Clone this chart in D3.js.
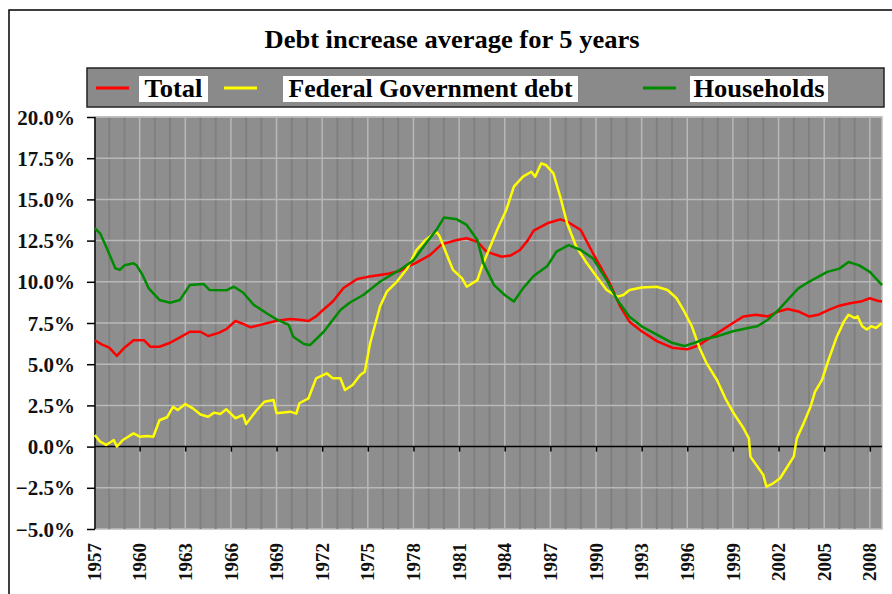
<!DOCTYPE html>
<html><head><meta charset="utf-8">
<script src="https://cdn.jsdelivr.net/npm/d3@7"></script>
<style>body{margin:0;background:#fff}svg{display:block}text{font-family:"Liberation Serif","Times New Roman",serif}</style>
</head><body>
<svg id="chart" width="892" height="594"></svg>
<script>
const titleText = "Debt increase average for 5 years";
const seriesNames = ["Total", "Federal Government debt", "Households"];
const yTicks = [-5, -2.5, 0, 2.5, 5, 7.5, 10, 12.5, 15, 17.5, 20];
const xTickYears = [1957,1960,1963,1966,1969,1972,1975,1978,1981,1984,1987,1990,1993,1996,1999,2002,2005,2008];

const totalPoints = [[1957.05,6.45],[1957.5,6.2],[1958.0,6.0],[1958.5,5.5],[1959.0,6.0],[1959.6,6.45],[1960.3,6.45],[1960.7,6.06],[1961.3,6.06],[1962.0,6.3],[1962.65,6.63],[1963.3,6.97],[1964.0,6.97],[1964.5,6.71],[1965.2,6.9],[1965.7,7.13],[1966.3,7.62],[1966.8,7.45],[1967.3,7.24],[1968.0,7.4],[1969.0,7.64],[1969.9,7.74],[1970.5,7.7],[1971.1,7.62],[1971.6,7.9],[1972.05,8.29],[1972.7,8.8],[1973.4,9.62],[1974.3,10.17],[1975.0,10.3],[1975.8,10.41],[1976.4,10.5],[1977.1,10.65],[1977.6,10.9],[1978.2,11.16],[1979.1,11.63],[1979.85,12.27],[1980.85,12.54],[1981.5,12.64],[1982.2,12.43],[1982.8,11.83],[1983.8,11.52],[1984.4,11.6],[1985.0,11.93],[1985.5,12.5],[1985.9,13.1],[1986.8,13.55],[1987.65,13.79],[1988.1,13.65],[1989.0,13.14],[1989.8,11.73],[1990.3,10.9],[1990.9,9.91],[1991.6,8.49],[1992.2,7.58],[1993.0,7.0],[1994.0,6.4],[1995.0,6.0],[1996.0,5.9],[1996.6,6.1],[1997.0,6.3],[1998.0,6.9],[1999.0,7.5],[1999.7,7.9],[2000.5,8.0],[2001.3,7.9],[2002.0,8.2],[2002.6,8.35],[2003.3,8.2],[2004.0,7.9],[2004.6,8.0],[2005.3,8.3],[2006.0,8.55],[2006.7,8.7],[2007.4,8.8],[2008.0,9.0],[2008.5,8.85],[2008.8,8.8]];

const federalPoints = [[1957.05,0.7],[1957.4,0.3],[1957.8,0.1],[1958.3,0.4],[1958.5,0.0],[1958.9,0.4],[1959.6,0.8],[1960.0,0.6],[1960.5,0.64],[1960.9,0.6],[1961.3,1.6],[1961.8,1.78],[1962.2,2.42],[1962.5,2.22],[1963.0,2.58],[1963.5,2.32],[1964.0,1.95],[1964.5,1.81],[1964.9,2.06],[1965.3,1.98],[1965.7,2.26],[1966.3,1.72],[1966.8,1.92],[1967.0,1.37],[1967.7,2.22],[1968.2,2.72],[1968.8,2.83],[1969.0,2.02],[1969.9,2.12],[1970.3,2.0],[1970.5,2.63],[1971.1,2.93],[1971.6,4.14],[1972.3,4.45],[1972.7,4.14],[1973.2,4.14],[1973.5,3.43],[1974.0,3.74],[1974.5,4.34],[1974.8,4.54],[1975.15,6.27],[1975.8,8.5],[1976.25,9.4],[1976.9,10.0],[1977.6,10.82],[1978.2,11.93],[1978.8,12.54],[1979.5,13.04],[1979.7,12.8],[1980.2,11.63],[1980.6,10.72],[1981.2,10.21],[1981.5,9.7],[1982.2,10.1],[1982.5,10.92],[1982.95,11.93],[1983.5,13.14],[1984.1,14.36],[1984.6,15.77],[1985.2,16.38],[1985.75,16.68],[1986.0,16.38],[1986.4,17.19],[1986.7,17.09],[1987.2,16.58],[1987.65,15.16],[1988.1,13.55],[1988.7,12.13],[1989.4,11.12],[1990.05,10.31],[1990.7,9.5],[1991.4,9.1],[1991.8,9.2],[1992.2,9.5],[1993.0,9.65],[1994.0,9.7],[1994.7,9.5],[1995.3,9.0],[1995.8,8.2],[1996.3,7.3],[1996.8,6.0],[1997.3,5.0],[1997.95,4.04],[1998.5,2.93],[1999.05,2.02],[1999.7,1.11],[2000.05,0.5],[2000.15,-0.61],[2001.0,-1.72],[2001.2,-2.43],[2001.65,-2.23],[2002.1,-1.92],[2003.0,-0.61],[2003.2,0.5],[2003.65,1.41],[2004.1,2.42],[2004.4,3.33],[2004.85,4.04],[2005.3,5.3],[2005.8,6.6],[2006.3,7.6],[2006.6,8.0],[2007.0,7.8],[2007.2,7.9],[2007.5,7.3],[2007.8,7.1],[2008.1,7.3],[2008.4,7.2],[2008.8,7.5]];

const householdPoints = [[1957.05,13.25],[1957.4,12.94],[1957.8,12.13],[1958.4,10.82],[1958.7,10.72],[1959.0,11.0],[1959.6,11.12],[1959.8,11.0],[1960.2,10.4],[1960.6,9.6],[1961.3,8.9],[1962.0,8.73],[1962.65,8.9],[1963.3,9.8],[1964.2,9.87],[1964.6,9.5],[1965.7,9.48],[1966.2,9.7],[1966.8,9.35],[1967.5,8.6],[1968.35,8.09],[1969.0,7.72],[1969.8,7.38],[1970.1,6.67],[1970.8,6.22],[1971.2,6.16],[1972.1,6.97],[1973.2,8.29],[1973.8,8.73],[1974.7,9.2],[1975.8,10.0],[1976.5,10.4],[1977.1,10.72],[1978.0,11.3],[1978.9,12.43],[1979.5,13.14],[1980.0,13.9],[1980.85,13.79],[1981.5,13.45],[1982.2,12.54],[1982.6,11.12],[1983.3,9.8],[1984.0,9.2],[1984.6,8.8],[1985.2,9.6],[1985.9,10.35],[1986.8,10.96],[1987.4,11.83],[1988.2,12.23],[1989.0,11.93],[1989.8,11.42],[1990.7,10.1],[1991.4,8.9],[1992.2,7.88],[1993.0,7.3],[1994.0,6.8],[1995.0,6.3],[1995.8,6.1],[1996.5,6.3],[1997.0,6.5],[1998.0,6.7],[1999.0,7.0],[2000.0,7.2],[2000.6,7.3],[2001.3,7.7],[2002.0,8.3],[2002.6,8.9],[2003.3,9.6],[2004.0,10.0],[2004.6,10.3],[2005.2,10.6],[2006.0,10.8],[2006.6,11.2],[2007.3,11.0],[2008.0,10.6],[2008.5,10.1],[2008.8,9.8]];

const colors = ["#ff0000", "#ffff00", "#008a00"];

const svg = d3.select("#chart");
const L = 95, R = 882, T = 117, B = 529;
const x = d3.scaleLinear().domain([1957, 2008.8]).range([94, 882]);
const y = d3.scaleLinear().domain([-5, 20]).range([B, T]);
const serif = "Liberation Serif";

// outer frame
svg.append("rect").attr("x", 9).attr("y", 10).attr("width", 900).attr("height", 600)
  .attr("fill", "#fff").attr("stroke", "#000").attr("stroke-width", 1.5);

// title
svg.append("text").attr("x", 452).attr("y", 48).attr("text-anchor", "middle")
  .style("font-family", serif).attr("font-weight", "bold").attr("font-size", 25)
  .attr("textLength", 375).attr("lengthAdjust", "spacingAndGlyphs")
  .text(titleText);

// legend
svg.append("rect").attr("x", 87).attr("y", 68).attr("width", 797).attr("height", 39)
  .attr("fill", "#8a8a8a").attr("stroke", "#222").attr("stroke-width", 1.5);
const legendItems = [
  {line: [96, 129], box: [139, 208], len: 58},
  {line: [224, 257], box: [283, 578], len: 284},
  {line: [643, 676], box: [690, 828], len: 131}
];
legendItems.forEach((it, i) => {
  svg.append("line").attr("x1", it.line[0]).attr("x2", it.line[1]).attr("y1", 88).attr("y2", 88)
    .attr("stroke", colors[i]).attr("stroke-width", 3);
  svg.append("rect").attr("x", it.box[0]).attr("y", 76).attr("width", it.box[1] - it.box[0]).attr("height", 26)
    .attr("fill", "#fff");
  svg.append("text").attr("x", (it.box[0] + it.box[1]) / 2).attr("y", 97).attr("text-anchor", "middle")
    .style("font-family", serif).attr("font-weight", "bold").attr("font-size", 25).attr("fill", "#000")
    .attr("textLength", it.len).attr("lengthAdjust", "spacingAndGlyphs")
    .text(seriesNames[i]);
});

// plot background
svg.append("rect").attr("x", L).attr("y", T).attr("width", R - L).attr("height", B - T)
  .attr("fill", "#8e8e8e").attr("stroke", "#bdbdbd").attr("stroke-width", 1.5);

// yearly darker lines
const years = d3.range(1958, 2009);
svg.append("g").selectAll("line").data(years.filter(v => (v - 1957) % 3 !== 0)).join("line")
  .attr("x1", d => x(d)).attr("x2", d => x(d)).attr("y1", T).attr("y2", B)
  .attr("stroke", "#808080").attr("stroke-width", 2);
// lighter gridlines every 3 years
svg.append("g").selectAll("line").data(xTickYears.filter(v => v > 1957)).join("line")
  .attr("x1", d => x(d)).attr("x2", d => x(d)).attr("y1", T).attr("y2", B)
  .attr("stroke", "#b8b8b8").attr("stroke-width", 1.5);
// horizontal gridlines
svg.append("g").selectAll("line").data(yTicks.filter(v => v !== 0 && v !== -5)).join("line")
  .attr("x1", L).attr("x2", R).attr("y1", d => y(d)).attr("y2", d => y(d))
  .attr("stroke", "#b8b8b8").attr("stroke-width", 1.5);

// zero axis
const xAxis = d3.axisBottom(x).tickValues(xTickYears.filter(v => v > 1957)).tickSize(5).tickFormat("");
const gx = svg.append("g").attr("transform", `translate(0,${y(0)})`).call(xAxis);
gx.select(".domain").remove();
gx.selectAll(".tick line").attr("stroke", "#000").attr("stroke-width", 1.5);
svg.append("line").attr("x1", L).attr("x2", R).attr("y1", y(0)).attr("y2", y(0))
  .attr("stroke", "#000").attr("stroke-width", 1.5);

// y axis
const yAxis = d3.axisLeft(y).tickValues(yTicks).tickSize(8).tickPadding(12)
  .tickFormat(d => d3.format(".1f")(d) + "%");
const gy = svg.append("g").attr("transform", `translate(${L},0)`).call(yAxis);
gy.attr("font-family", null);
gy.select(".domain").attr("stroke", "#000").attr("stroke-width", 1.5).attr("d", `M0,${T}V${B}`);
gy.selectAll(".tick line").attr("stroke", "#000").attr("stroke-width", 1.5);
gy.selectAll(".tick text").style("font-family", serif).attr("font-weight", "bold")
  .attr("font-size", 21).attr("fill", "#111").attr("dy", "0.34em");

// x labels
svg.append("g").selectAll("text").data(xTickYears).join("text")
  .attr("transform", d => `translate(${x(d)},543) rotate(-90)`)
  .attr("text-anchor", "end").attr("dy", "0.35em")
  .style("font-family", serif).attr("font-weight", "bold").attr("font-size", 19).attr("fill", "#111")
  .text(d => d);

// lines
const line = d3.line().x(d => x(d[0])).y(d => y(d[1]));
[totalPoints, federalPoints, householdPoints].forEach((pts, i) => {
  svg.append("path").datum(pts).attr("d", line).attr("fill", "none")
    .attr("stroke", colors[i]).attr("stroke-width", 2.5).attr("stroke-linejoin", "round");
});
</script>
</body></html>
